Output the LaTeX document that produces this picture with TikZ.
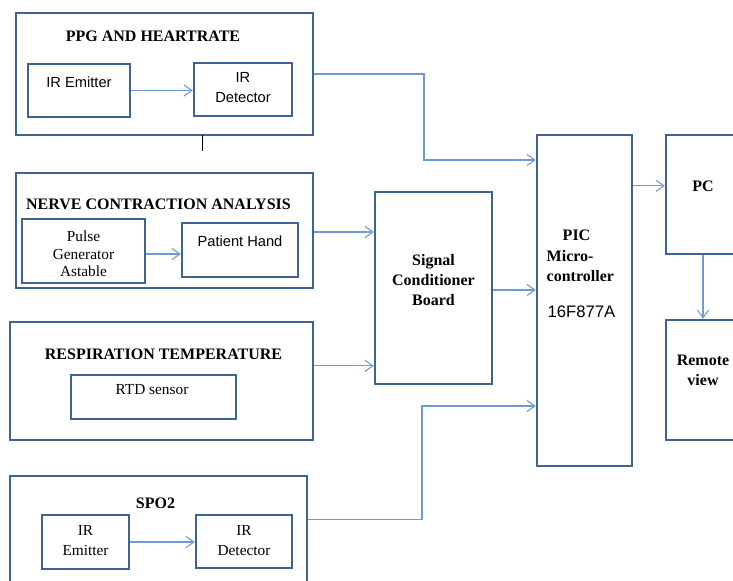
\documentclass[tikz,border=0pt]{standalone}
\usepackage{fontspec}
\setmainfont{Liberation Serif}
\setsansfont{Liberation Sans}
\usetikzlibrary{arrows.meta,positioning,calc,fit}
\definecolor{boxblue}{HTML}{3E6496}
\definecolor{linkblue}{HTML}{6F9AD2}

\begin{document}
\begin{tikzpicture}[x=0.75pt,y=-0.75pt]
    % Define styles
    \tikzstyle{blk}=[draw=boxblue,line width=1.8pt,inner sep=0pt]
    \tikzstyle{link}=[linkblue,line width=0.8pt,-{Straight Barb[length=6pt,width=8.5pt]}]
    \tikzstyle{hdr}=[font=\bfseries\fontsize{12}{15}\selectfont]
    \tikzstyle{slabel}=[font=\sffamily\fontsize{11}{15}\selectfont,align=center]
    \tikzstyle{rlabel}=[font=\fontsize{11.5}{15}\selectfont,align=center]
    \tikzstyle{blabel}=[font=\bfseries\fontsize{12}{15}\selectfont,align=center]

    \useasboundingbox (0,0) rectangle (733,581);
    \clip (0,0) rectangle (733,581);

    % PPG and heartrate
    \node[blk,fit={(16,13) (313,135)}] (ppg) {};
    \node[hdr] (ppgT) at (153,36) {PPG AND HEARTRATE};
    \node[blk,fit={(28,64) (130,117)}] (ppgEm) {};
    \node[slabel] (ppgEmT) at (79,82) {IR Emitter};
    \node[blk,fit={(194,63) (292,116)}] (ppgDet) {};
    \node[slabel] (ppgDetT) at (243,88) {IR\\Detector};
    \draw[link] (ppgEm.east) -- (ppgEm.east -| ppgDet.west);
    \draw (202,135) -- (202,151);

    % Nerve contraction analysis
    \node[blk,fit={(16,173) (313,288)}] (nerve) {};
    \node[hdr] (nerveT) at (158.5,204) {NERVE CONTRACTION ANALYSIS};
    \node[blk,fit={(22,219) (145,283)}] (pulse) {};
    \node[rlabel,font=\fontsize{11.5}{13}\selectfont] (pulseT) at (83.5,254) {Pulse\\Generator\\Astable};
    \node[blk,fit={(182,223) (298,277)}] (hand) {};
    \node[slabel] (handT) at (240,241) {Patient Hand};
    \draw[link] (pulse.east |- 0,254) -- (hand.west |- 0,254);

    % Respiration temperature
    \node[blk,fit={(10,322) (313,440)}] (resp) {};
    \node[hdr] (respT) at (163.5,354) {RESPIRATION TEMPERATURE};
    \node[blk,fit={(71,375) (236,419)}] (rtd) {};
    \node[rlabel] (rtdT) at (152,390) {RTD sensor};

    % SPO2
    \node[blk,fit={(10,476) (307,600)}] (spo) {};
    \node[hdr] (spoT) at (155.5,503) {SPO2};
    \node[blk,fit={(42,515) (129,569)}] (spoEm) {};
    \node[rlabel] (spoEmT) at (85.5,541) {IR\\Emitter};
    \node[blk,fit={(196,515) (292,568)}] (spoDet) {};
    \node[rlabel] (spoDetT) at (244,541) {IR\\Detector};
    \draw[link] (spoEm.east) -- (spoEm.east -| spoDet.west);

    % Signal conditioner board
    \node[blk,fit={(375,192) (492,384)}] (scb) {};
    \node[blabel] (scbT) at (433.5,280) {Signal\\Conditioner\\Board};

    % PIC microcontroller
    \node[blk,fit={(537,135) (632,466)}] (pic) {};
    \node[blabel] (picT) at (576.5,235) {PIC};
    \node[blabel,align=left,anchor=west] (picM) at (542,266) {Micro-\\controller};
    \node[font=\sffamily\fontsize{12.5}{15}\selectfont,anchor=west] (picN) at (543,312) {16F877A};

    % PC and remote view
    \node[blk,fit={(666,135) (740,254)}] (pc) {};
    \node[blabel] (pcT) at (703,186) {PC};
    \node[blk,fit={(666,320) (740,440)}] (remote) {};
    \node[blabel] (remoteT) at (703,370) {Remote\\view};

    % Draw connections
    \coordinate (ppgTurn) at (424,160);
    \draw[link] (ppg.east) -| (ppgTurn) -- (ppgTurn -| pic.west);
    \draw[link] (nerve.east |- 0,232) -- (scb.west |- 0,232);
    \coordinate (respOut) at ($(resp.north east)+(0,45)$);
    \draw[link] (respOut) -- (respOut -| scb.west);
    \coordinate (spoOut) at ($(spo.north east)+(0,45)$);
    \coordinate (spoTurn) at (422,406);
    \draw[link] (spoOut) -| (spoTurn) -- (spoTurn -| pic.west);
    \draw[link] (scb.east |- 0,290) -- (pic.west |- 0,290);
    \coordinate (pcIn) at ($(pc.north west)+(0,52)$);
    \draw[link] (pcIn -| pic.east) -- (pcIn);
    \draw[link] (pc.south) -- (remote.north);
\end{tikzpicture}
\end{document}
